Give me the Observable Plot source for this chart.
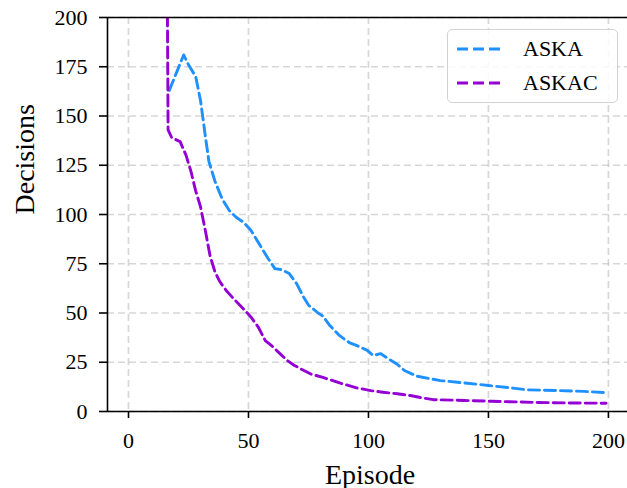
<!DOCTYPE html>
<html>
<head>
<meta charset="utf-8">
<script src="https://cdn.jsdelivr.net/npm/d3@7"></script>
<script src="https://cdn.jsdelivr.net/npm/@observablehq/plot@0.6"></script>
<style>
  html, body { margin: 0; padding: 0; background: white; overflow: hidden; }
  #wrap { position: relative; width: 627px; height: 488px; font-family: "Liberation Serif", serif; }
  #legend { position: absolute; left: 447px; top: 29px; width: 171px; height: 74px;
    border: 1.5px solid #d2d2d2; border-radius: 5px; background: rgba(255,255,255,0.85); box-sizing: border-box; }
  #legend .row { position: absolute; left: 0; height: 30px; display: flex; align-items: center; }
  #legend .row span { position: absolute; left: 75px; font-size: 22px; line-height: 30px; white-space: nowrap; color: black; }
</style>
</head>
<body>
<div id="wrap"></div>
<script>
// ---- data ----
const seriesNames = ["ASKA", "ASKAC"];
const seriesColors = ["#1e90ff", "#9400d3"];

const askaEpisodes = [17, 20, 23, 25, 28, 30, 32, 33.5, 36, 39, 42, 45, 48, 51, 55, 58, 61, 64, 67, 70, 73, 75, 79, 81, 84, 88, 92, 96, 99.5, 102, 105, 108, 112, 115, 120, 125, 130, 140, 150, 158, 166, 180, 190, 199];
const askaValues   = [163, 172, 181, 176, 170, 158, 140, 127, 117, 108, 102, 98.5, 96, 92, 84, 78, 72.5, 72, 70, 65, 58, 54, 50, 48.5, 43.5, 38.5, 35, 33, 31, 28.4, 29.4, 27, 24, 20.8, 18, 16.8, 15.7, 14.5, 13.2, 12.2, 11, 10.6, 10.2, 9.6];

const askacEpisodes = [16, 16.5, 18, 21.5, 24, 26, 28, 30, 32, 34, 36, 38, 41, 44, 48, 51, 54, 57, 60, 63, 66, 69, 72, 76, 81, 88, 95, 101, 106, 112, 118, 122, 127, 140, 151, 170, 185, 199];
const askacValues   = [250, 143, 139, 137, 130, 122, 112, 104, 92, 79, 71, 66, 61, 57, 52, 48, 43, 36, 33, 29.5, 26, 23.5, 21.5, 19, 17.3, 14.5, 12, 10.6, 9.8, 9, 8, 7, 6, 5.6, 5.2, 4.6, 4.3, 4.2];

const xTicks = [0, 50, 100, 150, 200];
const yTicks = [0, 25, 50, 75, 100, 125, 150, 175, 200];
const xLabel = "Episode";
const yLabel = "Decisions";

const xDomain = [-8.75, 209.2];
const yDomain = [0, 200];

const rows = [
  ...askaEpisodes.map((e, i) => ({episode: e, value: askaValues[i], series: seriesNames[0]})),
  ...askacEpisodes.map((e, i) => ({episode: e, value: askacValues[i], series: seriesNames[1]}))
];

const gridStyle = {stroke: "#b0b0b0", strokeOpacity: 0.5, strokeWidth: 1.7, strokeDasharray: "7,4"};

const chart = Plot.plot({
  width: 627,
  height: 488,
  marginLeft: 107,
  marginRight: -3,
  marginTop: 17,
  marginBottom: 77,
  style: {fontFamily: "Liberation Serif, serif", color: "black", background: "white"},
  x: {domain: xDomain, axis: null},
  y: {domain: yDomain, axis: null},
  color: {domain: seriesNames, range: seriesColors},
  marks: [
    Plot.ruleX(xTicks, gridStyle),
    Plot.ruleY(yTicks, gridStyle),
    Plot.line(rows, {x: "episode", y: "value", z: "series", stroke: "series",
      strokeWidth: 2.9, strokeDasharray: "11,5", clip: true, curve: "linear"}),
    Plot.ruleX([xDomain[0]], {stroke: "black", strokeWidth: 1.6}),
    Plot.ruleY([yDomain[0]], {stroke: "black", strokeWidth: 1.6}),
    Plot.ruleY([yDomain[1]], {stroke: "black", strokeWidth: 1.6}),
    Plot.axisX(xTicks, {tickSize: 7, tickPadding: 14, fontSize: 22, stroke: "black", fill: "black", strokeWidth: 1.6, label: null, tickFormat: d => String(d)}),
    Plot.axisY(yTicks, {tickSize: 8, tickPadding: 12, fontSize: 22, stroke: "black", fill: "black", strokeWidth: 1.6, label: null, tickFormat: d => String(d)}),
    Plot.text([xLabel], {frameAnchor: "bottom", dy: 72, dx: 1, lineAnchor: "bottom", fontSize: 28, fill: "black"}),
    Plot.text([yLabel], {frameAnchor: "left", dx: -74, rotate: -90, lineAnchor: "bottom", fontSize: 28, fill: "black"})
  ]
});

const wrap = document.getElementById("wrap");
wrap.appendChild(chart);

// legend
const legend = document.createElement("div");
legend.id = "legend";
seriesNames.forEach((name, i) => {
  const row = document.createElement("div");
  row.className = "row";
  row.style.top = (4 + i * 34) + "px";
  row.style.width = "100%";
  row.innerHTML = `<svg width="60" height="30" style="position:absolute;left:0;top:0">
    <line x1="9" x2="52" y1="15" y2="15" stroke="${seriesColors[i]}" stroke-width="2.9" stroke-dasharray="11,5"/></svg>
    <span>${name}</span>`;
  legend.appendChild(row);
});
wrap.appendChild(legend);
</script>
</body>
</html>
